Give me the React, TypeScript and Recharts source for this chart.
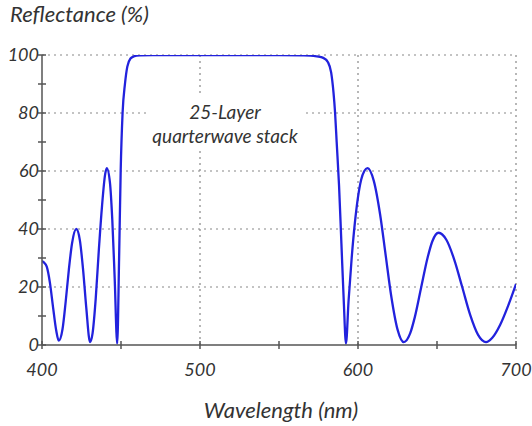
import React from "react";
import { LineChart, Line, XAxis, YAxis, ReferenceLine } from "recharts";

const wavelengths = [
  400, 401, 403, 405, 407, 409, 410.6, 413, 415, 417, 419, 421.7, 424, 426, 428, 430.4,
  432, 434, 436, 438, 440, 441, 443, 444.5, 446, 447.6, 448.8, 449.8, 451, 452.5, 454,
  456, 458, 462, 470, 500, 550, 565, 570, 574, 578, 581, 583, 584.5, 585.5, 586.5, 588,
  589.5, 591, 592.4, 594, 596, 598, 600, 602, 604, 606, 610, 614, 617.5, 621, 625, 629,
  633, 636, 640, 644, 647, 651, 656, 661, 666, 671, 676, 681, 685, 690, 695, 700,
];
const reflectance = [
  29, 28.6, 27, 21.5, 13, 5, 1.5, 5.5, 15, 26, 35, 40, 36, 26, 13, 1,
  4, 16, 33, 48, 59, 61, 56, 43, 23, 0.5, 30, 60, 80, 90, 96,
  98.8, 99.5, 99.9, 100, 100, 100, 99.9, 99.8, 99.5, 99, 97.5, 94, 87, 80, 70, 55,
  35, 15, 0.5, 15, 30, 42, 51, 57, 60, 61, 56.6, 45, 31, 17, 5.4, 1,
  4, 9.7, 19.9, 30, 35.7, 38.7, 36.2, 29.3, 19.9, 10.4, 3.5, 1, 2.5, 7, 13.5, 21,
];

const xTicks = [400, 450, 500, 550, 600, 650, 700];
const yTicks = [0, 10, 20, 30, 40, 50, 60, 70, 80, 90, 100];
const xGrid = [500, 600, 700];
const yGrid = [20, 40, 60, 80, 100];

const data = wavelengths.map((w, i) => ({ w, r: reflectance[i] }));

const FONT = "Lato, 'Open Sans', sans-serif";
const TEXT = "#333";
const AXIS = "#555";

const XTick = (props: any) => {
  const { x, y, payload } = props;
  const major = payload.value % 100 === 0;
  return (
    <g>
      <line x1={x} x2={x} y1={y - 4} y2={y + 4} stroke={AXIS} strokeWidth={1.5} />
      {major && (
        <text x={x} y={y + 31} textAnchor="middle" fontFamily={FONT} fontStyle="italic" fontSize={18} fill={TEXT}>
          {payload.value}
        </text>
      )}
    </g>
  );
};

const YTick = (props: any) => {
  const { x, y, payload } = props;
  const major = payload.value % 20 === 0;
  return (
    <g>
      <line x1={x - 4} x2={x + 4} y1={y} y2={y} stroke={AXIS} strokeWidth={1.5} />
      {major && (
        <text x={x - 3} y={y + 6} textAnchor="end" fontFamily={FONT} fontStyle="italic" fontSize={18} fill={TEXT}>
          {payload.value}
        </text>
      )}
    </g>
  );
};

export default function App() {
  return (
    <div style={{ position: "absolute", left: 0, top: 0, width: 532, height: 426, background: "#fff" }}>
      <LineChart width={532} height={426} data={data} margin={{ top: 55, right: 16, bottom: 51, left: 0 }}>
        <XAxis
          dataKey="w"
          type="number"
          domain={[400, 700]}
          ticks={xTicks}
          tick={<XTick />}
          tickLine={false}
          tickSize={0}
          tickMargin={0}
          height={30}
          axisLine={{ stroke: AXIS, strokeWidth: 1.5 }}
          allowDataOverflow
        />
        <YAxis
          type="number"
          domain={[0, 100]}
          ticks={yTicks}
          tick={<YTick />}
          tickLine={false}
          tickSize={0}
          tickMargin={0}
          width={42}
          axisLine={{ stroke: AXIS, strokeWidth: 1.5 }}
          allowDataOverflow
        />
        {yGrid.map((v) => (
          <ReferenceLine key={"y" + v} y={v} stroke="#888" strokeDasharray="2 4" strokeWidth={1.2} />
        ))}
        {xGrid.map((v) => (
          <ReferenceLine key={"x" + v} x={v} stroke="#888" strokeDasharray="2 4" strokeWidth={1.2} />
        ))}
        <Line
          dataKey="r"
          type="monotone"
          stroke="#2222dd"
          strokeWidth={2.3}
          dot={false}
          isAnimationActive={false}
        />
      </LineChart>
      <div
        style={{
          position: "absolute",
          left: 10,
          top: 0,
          fontFamily: FONT,
          fontStyle: "italic",
          fontSize: 22,
          color: TEXT,
        }}
      >
        Reflectance (%)
      </div>
      <div
        style={{
          position: "absolute",
          left: 146,
          top: 97,
          width: 158,
          height: 54,
          background: "#fff",
          fontFamily: FONT,
          fontStyle: "italic",
          fontSize: 19,
          lineHeight: "24px",
          color: TEXT,
          textAlign: "center",
          paddingTop: 3,
          boxSizing: "border-box",
        }}
      >
        25-Layer
        <br />
        quarterwave stack
      </div>
      <div
        style={{
          position: "absolute",
          left: 0,
          width: 532,
          top: 396,
          textAlign: "center",
          paddingLeft: 30,
          boxSizing: "border-box",
          fontFamily: FONT,
          fontStyle: "italic",
          fontSize: 22,
          color: TEXT,
        }}
      >
        Wavelength (nm)
      </div>
    </div>
  );
}
